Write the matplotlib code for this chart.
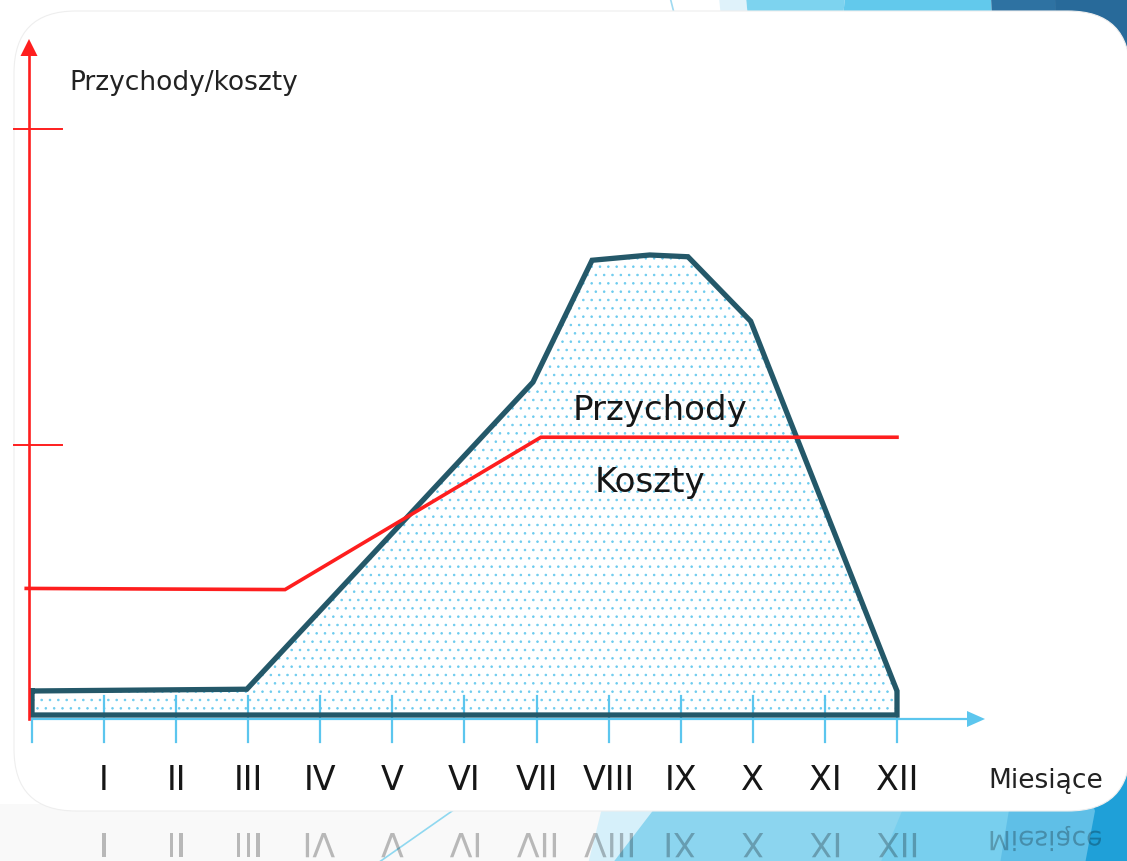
import matplotlib
matplotlib.use("Agg")
import matplotlib.pyplot as plt
from matplotlib.patches import FancyBboxPatch, Polygon, PathPatch
from matplotlib.textpath import TextPath
from matplotlib.font_manager import FontProperties
from matplotlib.transforms import Affine2D

# ---------------- data ----------------
month_labels = ["I", "II", "III", "IV", "V", "VI", "VII", "VIII", "IX", "X", "XI", "XII"]
month_ticks = list(range(0, 13))

# Przychody (revenue) outline: months and values
rev_months = [0, 2.98, 6.95, 7.77, 8.57, 9.10, 9.97, 12]
rev_values = [4.1, 4.4, 56.8, 77.6, 78.5, 78.2, 67.2, 4.1]

# Koszty (costs)
cost_months = [-0.08, 3.51, 7.06, 12]
cost_values = [21.6, 21.4, 47.4, 47.4]

y_ticks = [46.1, 100]

title_y = "Przychody/koszty"
title_x = "Miesiące"
label_rev = "Przychody"
label_cost = "Koszty"

# ---------------- styles ----------------
RED = "#fe1e1e"
LBLUE = "#5cc6ee"
DARK = "#245869"
DOTS = "#6ccbee"
TXT = "#161616"
FONT = "DejaVu Sans"
plt.rcParams["font.family"] = [FONT]
plt.rcParams["hatch.color"] = DOTS
plt.rcParams["hatch.linewidth"] = 0.6

W, H = 1127, 862
fig = plt.figure(figsize=(W / 100, H / 100), dpi=100)
fig.patch.set_facecolor("white")

# ---------------- background (slide decoration), pixel coords ----------------
bg = fig.add_axes([0, 0, 1, 1])
bg.set_xlim(0, W)
bg.set_ylim(H, 0)
bg.axis("off")
bg.set_zorder(0)

def poly(ax, pts, color, z=1, **kw):
    ax.add_patch(Polygon(pts, closed=True, facecolor=color, edgecolor="none", zorder=z, **kw))

# top strip
poly(bg, [(719, -2), (746, -2), (750, 40), (723, 40)], "#dff2fa")
poly(bg, [(746, -2), (845, -2), (841, 40), (750, 40)], "#7dd3ef")
poly(bg, [(845, -2), (991, -2), (993, 40), (841, 40)], "#62c9ec")
poly(bg, [(991, -2), (1055, -2), (1057, 40), (993, 40)], "#2e72a2")
poly(bg, [(1055, -2), (1130, -2), (1130, 220), (1057, 220)], "#286a9a")
bg.plot([670, 674], [-2, 14], color="#9fdaf1", lw=1.2, zorder=1)
# bottom strip
poly(bg, [(0, 805), (1130, 805), (1130, 865), (0, 865)], "#f9f9f9")
poly(bg, [(603, 805), (660, 805), (615, 865), (588, 865)], "#d6f0fa")
poly(bg, [(658, 805), (1130, 805), (1130, 865), (612, 865)], "#8cd5ef")
poly(bg, [(905, 805), (1130, 805), (1130, 865), (880, 865)], "#78cfee")
poly(bg, [(1010, 805), (1130, 805), (1130, 865), (1000, 865)], "#5fbfe7")
poly(bg, [(1060, 700), (1130, 700), (1130, 865), (1085, 865), (1095, 812)], "#1fa0d8")
bg.plot([375, 455], [866, 810], color="#8fd8f0", lw=1.2, zorder=1)

# white rounded panel
bg.add_patch(FancyBboxPatch((14, 12), 1116, 800,
                            boxstyle="round,pad=0,rounding_size=62",
                            facecolor="white", edgecolor="#eeeeee", lw=0.8, zorder=2))

# mirrored reflection of month labels
fp = FontProperties(family=FONT)

def px_x(m):
    return 32 + m * 72.083

for m, lab in zip(month_ticks[1:], month_labels):
    tp = TextPath((0, 0), lab, size=33.3, prop=fp)
    ext = tp.get_extents()
    cx = px_x(m)
    tr = Affine2D().translate(cx - (ext.x0 + ext.x1) / 2, 834) + bg.transData
    bg.add_patch(PathPatch(tp, transform=tr, facecolor="black", edgecolor="none",
                           alpha=0.26, zorder=1.5))
tp = TextPath((0, 0), title_x, size=26.4, prop=fp)
tr = Affine2D().translate(988, 832) + bg.transData
bg.add_patch(PathPatch(tp, transform=tr, facecolor="black", edgecolor="none",
                       alpha=0.26, zorder=1.5))

# ---------------- chart axes ----------------
UX = 72.083   # px per month
UY = 5.86     # px per value unit
X0, Y0 = 32, 716

def mx(px):
    return (px - X0) / UX

def vy(py):
    return (Y0 - py) / UY

ax = fig.add_axes([0, 0, 1, 1])
ax.set_zorder(1)
ax.patch.set_visible(False)
ax.set_xlim(mx(0), mx(W))
ax.set_ylim(vy(H), vy(0))
ax.axis("off")

# revenue area
xs = rev_months + [rev_months[-1], rev_months[0]]
ys = rev_values + [0, 0]
ax.fill(xs, ys, facecolor="white", edgecolor=DOTS, hatch="..", lw=0, zorder=2)

# x axis (light blue) with ticks and arrow
xa = vy(720)
ax.plot([0, mx(972)], [xa, xa], color=LBLUE, lw=1.6, zorder=3, solid_capstyle="butt")
ax.add_patch(Polygon([(mx(985), xa), (mx(967), vy(712)), (mx(967), vy(728))],
                     closed=True, facecolor=LBLUE, edgecolor="none", zorder=3))
for m in month_ticks:
    top = xa if m == 0 else vy(697)
    ax.plot([m, m], [top, vy(743)], color=LBLUE, lw=1.6, zorder=3.5)

# revenue outline
ax.plot(xs + [xs[0]], ys + [ys[0]], color=DARK, lw=3.8, zorder=4,
        solid_joinstyle="miter")

# y axis (red) with ticks and arrow
ya = mx(29)
ax.plot([ya, ya], [vy(720), vy(52)], color=RED, lw=1.9, zorder=5)
ax.add_patch(Polygon([(ya, vy(40)), (mx(20.5), vy(57)), (mx(37.5), vy(57))],
                     closed=True, facecolor=RED, edgecolor="none", zorder=5))
for t in y_ticks:
    ax.plot([mx(14), mx(62)], [t, t], color=RED, lw=1.4, zorder=5)

# cost line
ax.plot(cost_months, cost_values, color=RED, lw=2.6, zorder=6, solid_joinstyle="miter")

# month labels
for m, lab in zip(month_ticks[1:], month_labels):
    ax.text(m, vy(790), lab, ha="center", va="baseline", fontsize=24, color=TXT, zorder=7)

# texts
ax.text(mx(69), vy(90), title_y, ha="left", va="baseline", fontsize=19, color="#222222", zorder=7)
ax.text(mx(988), vy(788), title_x, ha="left", va="baseline", fontsize=19, color="#222222", zorder=7)
ax.text(mx(573), vy(420), label_rev, ha="left", va="baseline", fontsize=24.5, color=TXT, zorder=7)
ax.text(mx(595), vy(492), label_cost, ha="left", va="baseline", fontsize=24.5, color=TXT, zorder=7)

fig.savefig("out.png", dpi=100)
